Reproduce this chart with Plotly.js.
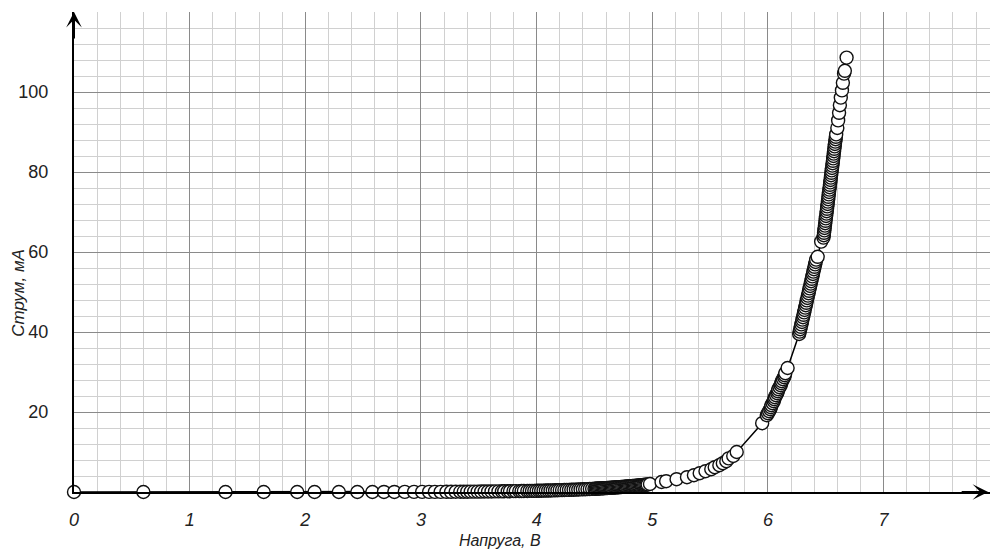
<!DOCTYPE html>
<html>
<head>
<meta charset="utf-8">
<script src="https://cdn.plot.ly/plotly-3.0.1.min.js"></script>
<style>html,body{margin:0;padding:0;background:#fff;}#chart{width:990px;height:549px;}</style>
</head>
<body>
<div id="chart"></div>
<script>
// Voltage (V) and current (mA), in sweep segments
const voltLow = [0, 0.60, 1.31, 1.64, 1.93, 2.08, 2.29, 2.45, 2.58, 2.68, 2.77, 2.86, 2.94, 3.01, 3.07, 3.12, 3.17, 3.22, 3.26, 3.30, 3.34, 3.37, 3.40, 3.43, 3.46, 3.49, 3.52, 3.55, 3.58, 3.61, 3.64, 3.67, 3.70, 3.72, 3.75, 3.77, 3.80, 3.82, 3.85, 3.87, 3.89, 3.92, 3.94, 3.96, 3.98];
const currLow = [0, 0, 0, 0, 0, 0, 0, 0, 0, 0.01, 0.01, 0.02, 0.02, 0.03, 0.03, 0.04, 0.04, 0.05, 0.05, 0.06, 0.07, 0.07, 0.08, 0.09, 0.10, 0.10, 0.11, 0.12, 0.13, 0.14, 0.15, 0.16, 0.17, 0.18, 0.19, 0.20, 0.21, 0.22, 0.23, 0.24, 0.25, 0.26, 0.27, 0.28, 0.29];

const voltKnee = [4.00, 4.02, 4.04, 4.06, 4.08, 4.10, 4.12, 4.14, 4.16, 4.18, 4.20, 4.22, 4.24, 4.26, 4.28, 4.30, 4.32, 4.34, 4.36, 4.38, 4.40, 4.42, 4.44, 4.46, 4.48, 4.50,
  4.51, 4.52, 4.53, 4.54, 4.55, 4.56, 4.57, 4.58, 4.59, 4.60, 4.61, 4.62, 4.63, 4.64, 4.65, 4.66, 4.67, 4.68, 4.69, 4.70, 4.71, 4.72, 4.73, 4.74, 4.75, 4.76, 4.77, 4.78, 4.79, 4.80, 4.81, 4.82, 4.83, 4.84, 4.85, 4.86, 4.87, 4.88, 4.89, 4.90, 4.91, 4.92, 4.93, 4.94, 4.95, 4.96];
const currKnee = [0.30, 0.31, 0.33, 0.34, 0.36, 0.38, 0.39, 0.41, 0.43, 0.44, 0.46, 0.48, 0.50, 0.52, 0.54, 0.56, 0.58, 0.60, 0.63, 0.65, 0.68, 0.70, 0.73, 0.76, 0.79, 0.82,
  0.83, 0.85, 0.86, 0.88, 0.90, 0.91, 0.93, 0.95, 0.96, 0.98, 1.00, 1.02, 1.04, 1.06, 1.08, 1.10, 1.12, 1.14, 1.16, 1.18, 1.20, 1.22, 1.24, 1.27, 1.29, 1.31, 1.34, 1.36, 1.38, 1.41, 1.43, 1.46, 1.49, 1.51, 1.54, 1.57, 1.60, 1.62, 1.65, 1.68, 1.71, 1.74, 1.77, 1.80, 1.84, 1.87];

const voltMid = [4.98, 5.08, 5.12, 5.21, 5.30, 5.36, 5.41, 5.46, 5.51, 5.54, 5.58, 5.61, 5.64, 5.66, 5.70, 5.73, 5.95];
const currMid = [2.0, 2.5, 2.7, 3.2, 3.7, 4.2, 4.7, 5.2, 5.7, 6.2, 6.7, 7.2, 7.7, 8.4, 9.0, 10.0, 17.2];

const voltRise1 = [5.99, 6.00, 6.01, 6.02, 6.025, 6.03, 6.04, 6.05, 6.055, 6.06, 6.07, 6.08, 6.085, 6.09, 6.10, 6.11, 6.115, 6.12, 6.13, 6.14, 6.145, 6.15, 6.17];
const currRise1 = [19.2, 19.7, 20.2, 20.7, 21.2, 21.7, 22.2, 22.7, 23.2, 23.7, 24.2, 24.7, 25.2, 25.7, 26.2, 26.7, 27.2, 27.7, 28.2, 28.7, 29.2, 29.7, 31.0];

const voltRise2 = [6.270, 6.275, 6.279, 6.284, 6.289, 6.294, 6.298, 6.303, 6.308, 6.313, 6.317, 6.322, 6.327, 6.332, 6.336, 6.341, 6.346, 6.351, 6.355, 6.360, 6.365, 6.370, 6.374, 6.379, 6.384, 6.389, 6.393, 6.398, 6.403, 6.408, 6.412, 6.417, 6.430, 6.460];
const currRise2 = [39.5, 40.1, 40.7, 41.3, 41.9, 42.5, 43.1, 43.7, 44.3, 44.9, 45.5, 46.1, 46.7, 47.3, 47.9, 48.5, 49.1, 49.7, 50.3, 50.9, 51.5, 52.1, 52.7, 53.3, 53.9, 54.5, 55.1, 55.7, 56.3, 56.9, 57.5, 58.1, 58.8, 62.6];

const voltRise3 = [6.480, 6.483, 6.485, 6.488, 6.490, 6.493, 6.495, 6.498, 6.500, 6.503, 6.506, 6.508, 6.511, 6.513, 6.516, 6.518, 6.521, 6.523, 6.526, 6.528, 6.531, 6.534, 6.536, 6.539, 6.541, 6.544, 6.546, 6.549, 6.551, 6.554, 6.557, 6.559, 6.562, 6.564, 6.567, 6.569, 6.572, 6.574, 6.577, 6.579, 6.582, 6.585, 6.587, 6.590,
  6.600, 6.607, 6.615, 6.622, 6.630, 6.640, 6.648, 6.658, 6.665, 6.680];
const currRise3 = [63.6, 64.2, 64.8, 65.4, 66.0, 66.6, 67.2, 67.8, 68.4, 69.0, 69.6, 70.2, 70.8, 71.4, 72.0, 72.6, 73.2, 73.8, 74.4, 75.0, 75.6, 76.2, 76.8, 77.4, 78.0, 78.6, 79.2, 79.8, 80.4, 81.0, 81.6, 82.2, 82.8, 83.4, 84.0, 84.6, 85.2, 85.8, 86.4, 87.0, 87.6, 88.2, 88.8, 89.4,
  91.0, 92.9, 94.8, 96.7, 98.6, 100.4, 102.3, 104.6, 105.3, 108.6];

const xTickVals = [0, 1, 2, 3, 4, 5, 6, 7];
const xTickText = ['0', '1', '2', '3', '4', '5', '6', '7'];
const yTickVals = [20, 40, 60, 80, 100];
const yTickText = ['20', '40', '60', '80', '100'];
const xLabel = 'Напруга, В';
const yLabel = 'Струм, мА';

const volts = [].concat(voltLow, voltKnee, voltMid, voltRise1, voltRise2, voltRise3);
const currents = [].concat(currLow, currKnee, currMid, currRise1, currRise2, currRise3);

const trace = {
  x: volts, y: currents, type: 'scatter', mode: 'lines+markers',
  line: {color: '#000', width: 1.5},
  marker: {size: 13, color: '#fff', line: {color: '#111', width: 1.4}},
  hoverinfo: 'skip', showlegend: false, cliponaxis: false
};

const font = {family: 'Liberation Sans, Arial, sans-serif'};
const layout = {
  width: 990, height: 549,
  margin: {l: 74, r: 0, t: 12, b: 57},
  paper_bgcolor: '#fff', plot_bgcolor: '#fff',
  font: font,
  xaxis: {
    range: [0, 7.92], tickvals: xTickVals, ticktext: xTickText.map(t => '<i>' + t + '</i>'),
    ticks: '', ticklabelstandoff: 10,
    tickfont: {size: 18, color: '#222', family: 'Liberation Sans, Arial, sans-serif'},
    showgrid: true, gridcolor: '#8a8a8a', gridwidth: 1,
    minor: {dtick: 0.2, showgrid: true, gridcolor: '#d0d0d0', gridwidth: 1},
    zeroline: false, showline: true, linecolor: '#000', linewidth: 2
  },
  yaxis: {
    range: [0, 120], tickvals: yTickVals, ticktext: yTickText,
    ticks: '', ticklabelstandoff: 20,
    tickfont: {size: 18, color: '#222', family: 'Liberation Sans, Arial, sans-serif'},
    showgrid: true, gridcolor: '#8a8a8a', gridwidth: 1,
    minor: {dtick: 4, showgrid: true, gridcolor: '#d0d0d0', gridwidth: 1},
    zeroline: false, showline: true, linecolor: '#000', linewidth: 2
  },
  annotations: [
    {xref: 'paper', yref: 'paper', x: 0.465, y: 0, yshift: -48, text: '<i>' + xLabel + '</i>', showarrow: false,
     font: {size: 16, color: '#222'}, xanchor: 'center', yanchor: 'middle'},
    {xref: 'paper', yref: 'paper', x: 0, xshift: -55, y: 0.415, text: '<i>' + yLabel + '</i>', showarrow: false,
     textangle: -90, font: {size: 17, color: '#222'}, xanchor: 'center', yanchor: 'middle'},
    {xref: 'paper', yref: 'paper', x: 0.998, y: 0, ax: -28, ay: 0, text: '', showarrow: true,
     arrowhead: 3, arrowsize: 1.3, arrowwidth: 2, arrowcolor: '#000'},
    {xref: 'paper', yref: 'paper', x: 0, y: 1, ax: 0, ay: 28, text: '', showarrow: true,
     arrowhead: 3, arrowsize: 1.3, arrowwidth: 2, arrowcolor: '#000'}
  ]
};

Plotly.newPlot('chart', [trace], layout, {displayModeBar: false, staticPlot: true});
</script>
</body>
</html>
